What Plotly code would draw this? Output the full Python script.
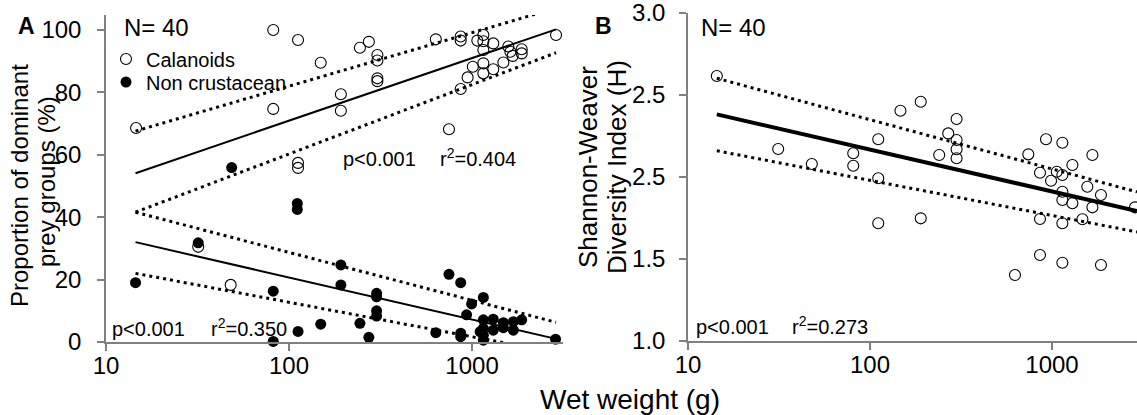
import plotly.graph_objects as go

# ---------------- data ----------------
# Panel A: calanoids (% of diet) vs wet weight (g)
cal_weight = [14.6, 31.9, 48, 82, 82, 112, 112, 112, 149, 192, 192, 244, 273, 304, 304, 304, 304,
              634, 748, 867, 867, 867, 946, 1010, 1069, 1153, 1153, 1153, 1153, 1153, 1306, 1306,
              1483, 1578, 1620, 1668, 1868, 1868, 2877]
cal_pct = [68.6, 30.5, 18.3, 100.0, 74.7, 96.8, 57.4, 55.8, 89.5, 79.4, 74.1, 94.3, 96.2, 92.0, 90.2, 84.5, 83.6,
           97.0, 68.2, 97.9, 96.6, 81.1, 84.8, 88.2, 96.6, 98.4, 96.4, 93.6, 89.3, 86.1, 95.7, 87.4,
           89.6, 94.7, 93.0, 91.7, 93.8, 92.5, 98.4]

# Panel A: non crustacean prey (% of diet) vs wet weight (g)
ncr_weight = [14.5, 31.9, 48.6, 82, 82, 111, 111, 112, 149, 192, 192, 244, 273, 301, 301, 301, 301,
              634, 748, 867, 867, 867, 934, 995, 1107, 1153, 1153, 1153, 1153, 1153, 1306, 1306,
              1483, 1483, 1682, 1682, 1868, 2860]
ncr_pct = [19.0, 31.8, 55.9, 16.3, 0.2, 44.4, 42.5, 3.4, 5.7, 24.7, 18.3, 6.0, 1.5, 15.6, 14.5, 10.0, 8.3,
           3.0, 21.7, 19.0, 2.8, 1.7, 8.7, 12.2, 3.3, 14.3, 7.1, 4.4, 2.2, 0.6, 7.3, 3.8,
           6.2, 4.6, 6.5, 3.8, 7.1, 0.9]

# Panel A regression lines (end points) with confidence limits
a_line_x = [14.5, 2877]
cal_fit = [54.1, 100.2]
cal_upper = [67.6, 107.0]
cal_lower = [41.6, 92.7]
ncr_fit = [32.0, 1.0]
ncr_upper = [41.6, 6.3]
ncr_lower = [22.0, -3.4]

# Panel B: Shannon-Weaver diversity vs wet weight (g)
div_weight = [14.4, 31.3, 47.9, 80.9, 80.9, 111, 111, 111, 147, 190, 190, 240, 269, 299, 299, 299, 299,
              626, 741, 859, 859, 859, 927, 988, 1062, 1140, 1140, 1140, 1140, 1140, 1140, 1294, 1294,
              1469, 1563, 1667, 1667, 1858, 1858, 2858]
div_h = [2.616, 2.171, 2.079, 2.145, 2.069, 2.230, 1.992, 1.718, 2.404, 2.459, 1.748, 2.134, 2.266, 2.354,
         2.226, 2.169, 2.114, 1.402, 2.138, 2.026, 1.744, 1.524, 2.230, 1.977, 2.032, 2.209, 2.012, 1.910,
         1.860, 1.718, 1.477, 2.073, 1.840, 1.742, 1.941, 2.134, 1.815, 1.890, 1.463, 1.815]

b_line_x = [14.4, 2931]
div_fit = [2.382, 1.793]
div_upper = [2.602, 1.909]
div_lower = [2.160, 1.665]

# axis ticks
x_tickvals = [10, 100, 1000]
x_ticktext = ["10", "100", "1000"]
a_y_tickvals = [0, 20, 40, 60, 80, 100]
b_y_tickvals = [1.0, 1.5, 2.0, 2.5, 3.0]
b_y_ticktext = ["1.0", "1.5", "2.5", "2.5", "3.0"]

# ---------------- figure ----------------
W, H = 1137, 415
FONT = "Liberation Sans, Arial, sans-serif"
AXC = "#808080"


def px(p):
    return p / W


def py(p):
    return 1 - p / H


DOT = "3px,4px"
fig = go.Figure()

# Panel A lines
for yv, w, d in [(cal_fit, 2, "solid"), (cal_upper, 3, DOT), (cal_lower, 3, DOT),
                 (ncr_fit, 2, "solid"), (ncr_upper, 3, DOT), (ncr_lower, 3, DOT)]:
    fig.add_trace(go.Scatter(x=a_line_x, y=yv, mode="lines", showlegend=False,
                             line=dict(color="black", width=w, dash=d), xaxis="x", yaxis="y"))

fig.add_trace(go.Scatter(x=cal_weight, y=cal_pct, mode="markers", name="Calanoids", legend="legend",
                         marker=dict(symbol="circle-open", size=11, color="black", line=dict(width=1.1)),
                         cliponaxis=False, xaxis="x", yaxis="y"))
fig.add_trace(go.Scatter(x=ncr_weight, y=ncr_pct, mode="markers", name="Non crustacean", legend="legend2",
                         marker=dict(symbol="circle", size=11, color="black"),
                         cliponaxis=False, xaxis="x", yaxis="y"))

# Panel B
for yv, w, d in [(div_fit, 4, "solid"), (div_upper, 3, DOT), (div_lower, 3, DOT)]:
    fig.add_trace(go.Scatter(x=b_line_x, y=yv, mode="lines", showlegend=False,
                             line=dict(color="black", width=w, dash=d), xaxis="x2", yaxis="y2"))
fig.add_trace(go.Scatter(x=div_weight, y=div_h, mode="markers", showlegend=False,
                         marker=dict(symbol="circle-open", size=11, color="black", line=dict(width=1.1)),
                         cliponaxis=False, xaxis="x2", yaxis="y2"))

axis_common = dict(showline=True, linecolor=AXC, linewidth=1.5, ticks="outside", ticklen=7,
                   tickcolor=AXC, tickwidth=1.5, showgrid=False, zeroline=False,
                   ticklabeloverflow="allow",
                   tickfont=dict(family=FONT, size=24, color="black"))

legend_common = dict(xanchor="left", yanchor="middle", bgcolor="rgba(0,0,0,0)",
                     font=dict(family=FONT, size=20, color="black"), itemwidth=30,
                     borderwidth=0)

fig.update_layout(
    width=W, height=H, margin=dict(l=0, r=0, t=0, b=0, autoexpand=False),
    paper_bgcolor="white", plot_bgcolor="white",
    font=dict(family=FONT, color="black"),
    xaxis=dict(type="log", range=[1, 3.497], domain=[px(106), px(563)], anchor="y",
               tickvals=x_tickvals, ticktext=x_ticktext, ticklabelstandoff=-6, **axis_common),
    yaxis=dict(range=[0, 104.8], domain=[py(342), py(15)], anchor="x",
               tickvals=a_y_tickvals, ticklabelstandoff=11, **axis_common),
    xaxis2=dict(type="log", range=[1, 3.467], domain=[px(688), 1.0], anchor="y2",
                tickvals=x_tickvals, ticktext=x_ticktext, ticklabelstandoff=-6, **axis_common),
    yaxis2=dict(range=[1.0, 3.0], domain=[py(341), py(13)], anchor="x2",
                tickvals=b_y_tickvals, ticktext=b_y_ticktext, ticklabelstandoff=9, **axis_common),
    legend=dict(x=px(106), y=py(59), **legend_common),
    legend2=dict(x=px(106), y=py(82), **legend_common),
)


def ann(text, x, y, size, xanchor="left", yanchor="middle", angle=0, bold=False):
    fig.add_annotation(text=f"<b>{text}</b>" if bold else text, x=px(x), y=py(y),
                       xref="paper", yref="paper", showarrow=False, xanchor=xanchor,
                       yanchor=yanchor, textangle=angle,
                       font=dict(family=FONT, size=size, color="black"))


ann("A", 27, 26, 23, xanchor="center", bold=True)
ann("B", 603, 26, 23, xanchor="center", bold=True)
ann("N= 40", 122, 27, 24)
ann("N= 40", 699, 27, 24)
ann("p&lt;0.001", 341, 159, 20)
ann("r<sup>2</sup>=0.404", 438, 157, 20)
ann("p&lt;0.001", 110, 329, 20)
ann("r<sup>2</sup>=0.350", 209, 327, 20)
ann("p&lt;0.001", 694, 327, 20)
ann("r<sup>2</sup>=0.273", 790, 325, 20)
ann("Proportion of dominant", 19, 186, 24, xanchor="center", angle=-90)
ann("prey groups (%)", 46, 182, 24, xanchor="center", angle=-90)
ann("Shannon-Weaver", 588, 167, 26, xanchor="center", angle=-90)
ann("Diversity Index (H)", 617, 167, 26, xanchor="center", angle=-90)
ann("Wet weight (g)", 630, 399, 28, xanchor="center")

fig.write_html("out.html", config={"responsive": False, "displayModeBar": False},
               post_script="document.body.style.margin='0';document.body.style.overflow='hidden';")
